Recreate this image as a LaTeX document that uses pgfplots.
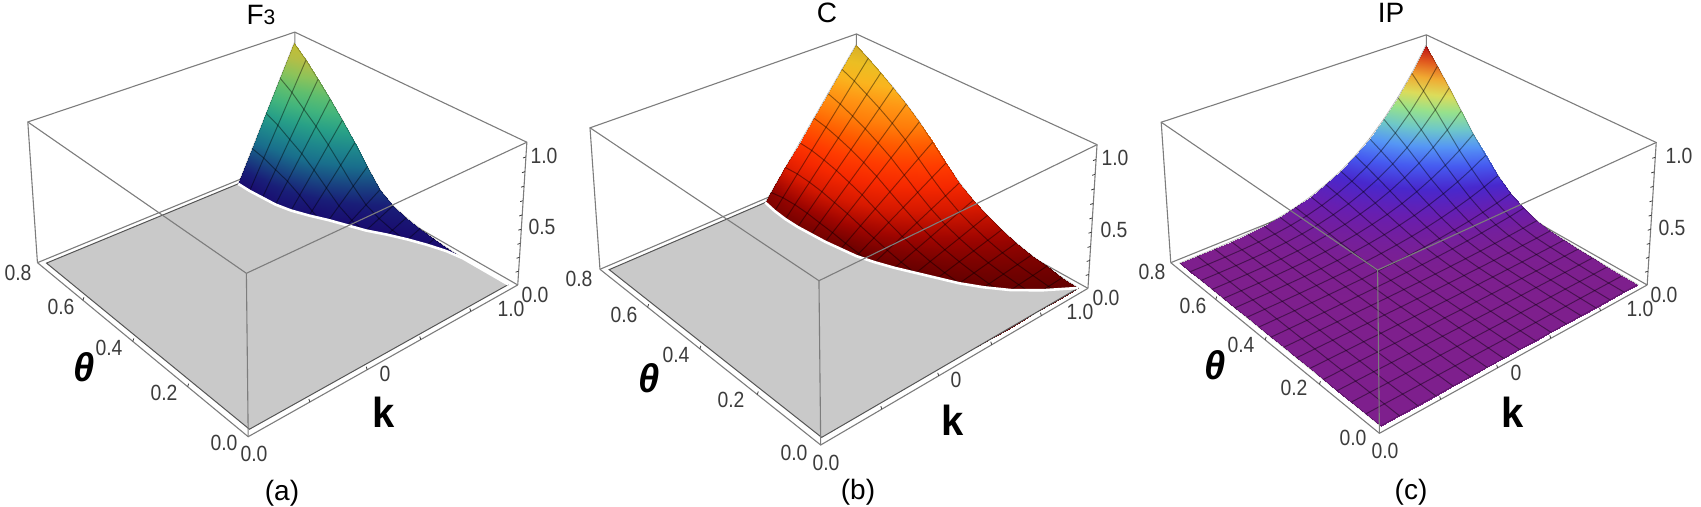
\documentclass[border=0pt]{standalone}
\usepackage{graphicx}
\usepackage{fontspec}
\setmainfont{Liberation Sans}
\usepackage{pgfplots}
\usepackage{pgfplotstable}
\pgfplotsset{compat=1.18}
\definecolor{boxc}{RGB}{125,125,125}
\definecolor{floorc}{RGB}{201,201,201}
\definecolor{edgec}{RGB}{85,85,85}
\definecolor{tickc}{RGB}{60,60,60}
\pgfplotsset{
 colormap={blk}{color=(black) color=(black)},
 colormap={mapa}{rgb255=(25,10,110) rgb255=(25,30,120) rgb255=(25,70,130) rgb255=(25,110,140) rgb255=(30,135,140) rgb255=(40,160,135) rgb255=(65,180,125) rgb255=(95,190,110) rgb255=(140,195,90) rgb255=(180,190,70) rgb255=(195,190,50)},
 colormap={mapb}{rgb255=(100,0,0) rgb255=(160,5,0) rgb255=(215,25,0) rgb255=(245,40,0) rgb255=(255,60,0) rgb255=(255,90,0) rgb255=(255,125,10) rgb255=(255,150,20) rgb255=(250,180,30) rgb255=(235,190,35) rgb255=(215,175,40)},
 colormap={mapc}{rgb255=(126,31,141) rgb255=(104,30,175) rgb255=(72,40,205) rgb255=(70,90,240) rgb255=(85,150,245) rgb255=(110,200,200) rgb255=(150,225,140) rgb255=(220,220,90) rgb255=(240,170,50) rgb255=(225,90,30) rgb255=(190,20,20)},
 panel/.style={hide axis,clip=false,scale only axis,y dir=reverse,ymin=0,ymax=507,height=253.5pt,anchor=south west,point meta min=0,point meta max=1},
}
% z values: rows theta=0.80,0.75,... ; in each row k=1,15/16,14/16,...
\pgfplotstableread[row sep=\\]{z\\
1\\.75\\.5\\.25\\0\\
.91\\.683\\.455\\.228\\0\\
.8\\.596\\.392\\.188\\-.016\\
.69\\.51\\.331\\.151\\-.029\\
.57\\.412\\.253\\.095\\-.063\\
.44\\.303\\.165\\.028\\-.11\\
.3\\.19\\.079\\-.031\\-.06\\
.17\\.097\\.023\\-.05\\-.05\\
.1\\.048\\-.004\\-.06\\-.06\\
.065\\.017\\-.03\\-.03\\-.03\\
.04\\-.005\\-.03\\-.03\\-.03\\
.02\\-.02\\-.02\\-.02\\-.02\\
.01\\-.02\\-.02\\-.02\\-.02\\
0\\0\\0\\0\\0\\
}\tabA
\pgfplotstableread[row sep=\\]{z\\
1\\.844\\.688\\.531\\.375\\.219\\.063\\-.094\\
.94\\.797\\.653\\.51\\.367\\.224\\.08\\-.063\\
.87\\.739\\.608\\.477\\.346\\.215\\.084\\-.047\\
.8\\.679\\.559\\.438\\.318\\.198\\.077\\-.043\\
.72\\.611\\.5\\.391\\.281\\.171\\.061\\-.048\\
.63\\.533\\.436\\.338\\.241\\.144\\.047\\-.05\\
.52\\.438\\.356\\.273\\.191\\.109\\.026\\-.056\\
.41\\.344\\.277\\.21\\.144\\.077\\.011\\-.056\\
.31\\.257\\.204\\.151\\.098\\.045\\-.008\\-.06\\
.23\\.188\\.145\\.103\\.061\\.019\\-.024\\-.06\\
.17\\.136\\.101\\.067\\.033\\-.001\\-.036\\-.05\\
.12\\.093\\.066\\.04\\.013\\-.014\\-.04\\-.04\\
.08\\.06\\.04\\.02\\0\\-.02\\-.03\\-.03\\
.05\\.035\\.02\\.005\\-.01\\-.02\\-.02\\-.02\\
.03\\.018\\.007\\-.005\\-.01\\-.01\\-.01\\-.01\\
.01\\.003\\-.004\\-.01\\-.01\\-.01\\-.01\\-.01\\
0\\0\\0\\0\\0\\0\\0\\0\\
}\tabB
\pgfplotstableread[row sep=\\]{z\\
1\\.813\\.652\\.515\\.398\\.301\\.222\\.159\\.109\\.071\\.043\\.024\\.012\\.005\\.001\\0\\0\\
.88\\.715\\.574\\.453\\.35\\.265\\.195\\.14\\.096\\.062\\.038\\.021\\.011\\.004\\.001\\0\\0\\
.75\\.61\\.489\\.386\\.299\\.226\\.167\\.119\\.082\\.053\\.032\\.018\\.009\\.004\\.001\\0\\0\\
.61\\.496\\.398\\.314\\.243\\.184\\.135\\.097\\.066\\.043\\.026\\.015\\.007\\.003\\.001\\0\\0\\
.47\\.382\\.306\\.242\\.187\\.141\\.104\\.075\\.051\\.033\\.02\\.011\\.006\\.002\\0\\0\\0\\
.35\\.285\\.228\\.18\\.139\\.105\\.078\\.056\\.038\\.025\\.015\\.008\\.004\\.002\\0\\0\\0\\
.24\\.195\\.156\\.124\\.096\\.072\\.053\\.038\\.026\\.017\\.01\\.006\\.003\\.001\\0\\0\\0\\
.15\\.122\\.098\\.077\\.06\\.045\\.033\\.024\\.016\\.011\\.006\\.004\\.002\\.001\\0\\0\\0\\
.09\\.073\\.059\\.046\\.036\\.027\\.02\\.014\\.01\\.006\\.004\\.002\\.001\\0\\0\\0\\0\\
.05\\.041\\.033\\.026\\.02\\.015\\.011\\.008\\.005\\.004\\.002\\.001\\.001\\0\\0\\0\\0\\
.03\\.024\\.02\\.015\\.012\\.009\\.007\\.005\\.003\\.002\\.001\\.001\\0\\0\\0\\0\\0\\
.02\\.016\\.013\\.01\\.008\\.006\\.004\\.003\\.002\\.001\\.001\\0\\0\\0\\0\\0\\0\\
.012\\.01\\.008\\.006\\.005\\.004\\.003\\.002\\.001\\.001\\0\\0\\0\\0\\0\\0\\0\\
.007\\.006\\.005\\.004\\.003\\.002\\.002\\.001\\.001\\0\\0\\0\\0\\0\\0\\0\\0\\
.003\\.002\\.002\\.002\\.001\\.001\\.001\\0\\0\\0\\0\\0\\0\\0\\0\\0\\0\\
.001\\.001\\.001\\.001\\0\\0\\0\\0\\0\\0\\0\\0\\0\\0\\0\\0\\0\\
0\\0\\0\\0\\0\\0\\0\\0\\0\\0\\0\\0\\0\\0\\0\\0\\0\\
}\tabC
% floor outline (k, theta): boundary of the part where the value is zero
\pgfplotstableread[row sep=\\]{k t\\
1 0\\1 .15\\.99 .2\\.97 .25\\.945 .3\\.915 .35\\.88 .4\\.855 .45\\.83 .5\\.8 .55\\.775 .6\\.76 .65\\.755 .7\\.75 .75\\.75 .8\\
}\bndA
\pgfplotstableread[row sep=\\]{k t\\
1 0\\.91 .05\\.84 .1\\.79 .15\\.75 .2\\.72 .25\\.69 .3\\.66 .35\\.635 .4\\.615 .45\\.605 .5\\.595 .55\\.59 .6\\.585 .65\\.585 .7\\.59 .75\\.6 .8\\
}\bndB
\pgfplotstableread[row sep=\\]{k t\\
1 0\\1 .15\\.99 .2\\.97 .25\\.945 .3\\.915 .35\\.88 .4\\.855 .45\\.83 .5\\.8 .55\\.775 .6\\.76 .65\\.755 .7\\.75 .75\\.75 .8\\0 .8\\0 0\\1 0\\
}\flrA
\pgfplotstableread[row sep=\\]{k t\\
1 0\\.91 .05\\.84 .1\\.79 .15\\.75 .2\\.72 .25\\.69 .3\\.66 .35\\.635 .4\\.615 .45\\.605 .5\\.595 .55\\.59 .6\\.585 .65\\.585 .7\\.59 .75\\.6 .8\\0 .8\\0 0\\1 0\\
}\flrB
\pgfplotstableread[row sep=\\]{k t\\.75 .8\\0 .8\\0 0\\1 0\\}\edgA
\pgfplotstableread[row sep=\\]{k t\\.6 .8\\0 .8\\0 0\\1 0\\}\edgB
\newcommand\bx[1]{\addplot[boxc,line width=.55pt] table[row sep=\\,x expr={PX(\thisrow{u},\thisrow{v},\thisrow{w})},y expr={PY(\thisrow{u},\thisrow{v},\thisrow{w})}]{u v w\\#1};}
\newcommand\backbox{\bx{0 1 0\\1 1 0\\1 0 0\\}\bx{0 1 0\\0 1 1\\1 1 1\\1 0 1\\1 0 0\\}\bx{1 1 0\\1 1 1\\}}
\newcommand\frontbox{\bx{0 1 0\\0 0 0\\1 0 0\\}\bx{0 1 1\\0 0 1\\1 0 1\\}\bx{0 0 0\\0 0 1\\}
 \addplot[quiver={u=-3,v=1},tickc,line width=.4pt] table[row sep=\\,x index=0,y index=0,x expr={PX(1,0,\thisrow{w})},y expr={PY(1,0,\thisrow{w})}]{w\\.1\\.2\\.3\\.4\\.5\\.6\\.7\\.8\\.9\\};
 \addplot[quiver={u=-1,v=-3},tickc,line width=.4pt] table[row sep=\\,x index=0,y index=0,x expr={PX(\thisrow{u},0,0)},y expr={PY(\thisrow{u},0,0)}]{u\\.2\\.4\\.6\\.8\\};
 \addplot[quiver={u=1,v=-3},tickc,line width=.4pt] table[row sep=\\,x index=0,y index=0,x expr={PX(0,\thisrow{v},0)},y expr={PY(0,\thisrow{v},0)}]{v\\.25\\.5\\.75\\};
}
\newcommand\srf[4]{%
 \addplot[surf,shader=interp,colormap name=#4,mesh/cols=#2,mesh/rows=#3,point meta=\thisrow{z}] table[x index=0,y index=0,x expr={DX(1-mod(\coordindex,#2)/16,0.8-(\coordindex-mod(\coordindex,#2))/#2*0.05,\thisrow{z})},y expr={DY(1-mod(\coordindex,#2)/16,0.8-(\coordindex-mod(\coordindex,#2))/#2*0.05,\thisrow{z})}]{#1};
 \addplot[surf,shader=faceted,faceted color=black,fill opacity=0,draw opacity=.24,line width=.45pt,colormap name=#4,mesh/cols=#2,mesh/rows=#3,point meta=\thisrow{z}] table[x index=0,y index=0,x expr={DX(1-mod(\coordindex,#2)/16,0.8-(\coordindex-mod(\coordindex,#2))/#2*0.05,\thisrow{z})},y expr={DY(1-mod(\coordindex,#2)/16,0.8-(\coordindex-mod(\coordindex,#2))/#2*0.05,\thisrow{z})}]{#1};}
\newcommand\flr[3]{%
 \addplot[fill=floorc,draw=none] table[x expr={DX(\thisrow{k},\thisrow{t},0)},y expr={DY(\thisrow{k},\thisrow{t},0)}]{#1};
 \addplot[edgec,line width=.5pt] table[x expr={DX(\thisrow{k},\thisrow{t},0)},y expr={DY(\thisrow{k},\thisrow{t},0)}]{#3};
 \addplot[white,line width=1.3pt] table[x expr={DX(\thisrow{k},\thisrow{t},0)},y expr={DY(\thisrow{k},\thisrow{t},0)}]{#2};}
\newcommand\tl[1]{\fontsize{11}{12}\selectfont\color{tickc}\scalebox{.88}[1]{#1}}
\newcommand\tlab[3]{\node[inner sep=0pt] at (axis cs:#1,#2) {\tl{#3}};}
\newcommand\bigk{\fontsize{21}{23}\selectfont\bfseries\scalebox{.95}[1]{k}}
\newcommand\bigth{\fontsize{20}{22}\selectfont\bfseries\itshape\scalebox{.95}[1]{θ}}
\newcommand\ttl[1]{\fontsize{14}{16}\selectfont #1}
\begin{document}
\begin{tikzpicture}[x=1pt,y=1pt]
\useasboundingbox (0,0) rectangle (850.5pt,253.5pt);
% ---------- (a)
\begin{axis}[panel,at={(0pt,0pt)},width=280pt,xmin=0,xmax=560,
 declare function={
  PX(\xa,\xb,\xc)=(365.9*\xa-202.9*\xb-12.9*\xc+248.2)/(1+0.1861*\xa+0.2099*\xb-0.045*\xc);
  PY(\xa,\xb,\xc)=(-98.7*\xa-118.9*\xb-175.7*\xc+436.7)/(1+0.1861*\xa+0.2099*\xb-0.045*\xc);
  DX(\xa,\xb,\xc)=PX((\xa+0.02)/1.04,(\xb+0.016)/0.832,0.94*\xc);
  DY(\xa,\xb,\xc)=PY((\xa+0.02)/1.04,(\xb+0.016)/0.832,0.94*\xc);}]
\backbox
\srf{\tabA}{5}{14}{mapa}
\flr{\flrA}{\bndA}{\edgA}
\frontbox
\tlab{544}{156}{1.0}\tlab{542}{227}{0.5}\tlab{535}{295}{0.0}
\tlab{511}{309}{1.0}\tlab{385}{374}{0}\tlab{254}{454}{0.0}
\tlab{224}{443}{0.0}\tlab{164}{393}{0.2}\tlab{109}{348}{0.4}\tlab{61}{307}{0.6}\tlab{18}{273}{0.8}
\node at (axis cs:84,367) {\bigth};
\node at (axis cs:384,412) {\bigk};
\node at (axis cs:261,15) {\ttl{F{\fontsize{10.5}{11}\selectfont 3}}};
\node at (axis cs:282,493) {\ttl{(a)}};
\end{axis}
% ---------- (b)
\begin{axis}[panel,at={(280pt,0pt)},width=285pt,xmin=560,xmax=1130,
 declare function={
  PX(\xa,\xb,\xc)=(469.7*\xa-94.8*\xb-38.6*\xc+820.7)/(1+0.1861*\xa+0.2099*\xb-0.045*\xc);
  PY(\xa,\xb,\xc)=(-103*\xa-119.2*\xb-176.9*\xc+445)/(1+0.1861*\xa+0.2099*\xb-0.045*\xc);
  DX(\xa,\xb,\xc)=PX((\xa+0.02)/1.04,(\xb+0.016)/0.832,0.94*\xc);
  DY(\xa,\xb,\xc)=PY((\xa+0.02)/1.04,(\xb+0.016)/0.832,0.94*\xc);}]
\backbox
\srf{\tabB}{8}{17}{mapb}
\flr{\flrB}{\bndB}{\edgB}
\frontbox
\tlab{1115}{158}{1.0}\tlab{1114}{230}{0.5}\tlab{1106}{298}{0.0}
\tlab{1080}{312}{1.0}\tlab{956}{380}{0}\tlab{826}{463}{0.0}
\tlab{794}{453}{0.0}\tlab{731}{400}{0.2}\tlab{676}{355}{0.4}\tlab{624}{315}{0.6}\tlab{579}{279}{0.8}
\node at (axis cs:649,378) {\bigth};
\node at (axis cs:953,420) {\bigk};
\node at (axis cs:827,13) {\ttl{C}};
\node at (axis cs:858,492) {\ttl{(b)}};
\end{axis}
% ---------- (c)
\begin{axis}[panel,at={(565pt,0pt)},width=285.5pt,xmin=1130,xmax=1701,
 declare function={
  PX(\xa,\xb,\xc)=(574.3*\xa+37.1*\xb-63.8*\xc+1379.4)/(1+0.1861*\xa+0.2099*\xb-0.045*\xc);
  PY(\xa,\xb,\xc)=(-95.3*\xa-115.5*\xb-175.4*\xc+433.3)/(1+0.1861*\xa+0.2099*\xb-0.045*\xc);
  DX(\xa,\xb,\xc)=PX((\xa+0.02)/1.04,(\xb+0.016)/0.832,0.94*\xc);
  DY(\xa,\xb,\xc)=PY((\xa+0.02)/1.04,(\xb+0.016)/0.832,0.94*\xc);}]
\backbox
\srf{\tabC}{17}{17}{mapc}
\frontbox
\tlab{1679}{156}{1.0}\tlab{1672}{228}{0.5}\tlab{1664}{295}{0.0}
\tlab{1640}{309}{1.0}\tlab{1516}{373}{0}\tlab{1385}{451}{0.0}
\tlab{1353}{438}{0.0}\tlab{1294}{388}{0.2}\tlab{1241}{345}{0.4}\tlab{1193}{306}{0.6}\tlab{1152}{272}{0.8}
\node at (axis cs:1215,365) {\bigth};
\node at (axis cs:1513,412) {\bigk};
\node at (axis cs:1391,13) {\ttl{IP}};
\node at (axis cs:1411,492) {\ttl{(c)}};
\end{axis}
\end{tikzpicture}
\end{document}
